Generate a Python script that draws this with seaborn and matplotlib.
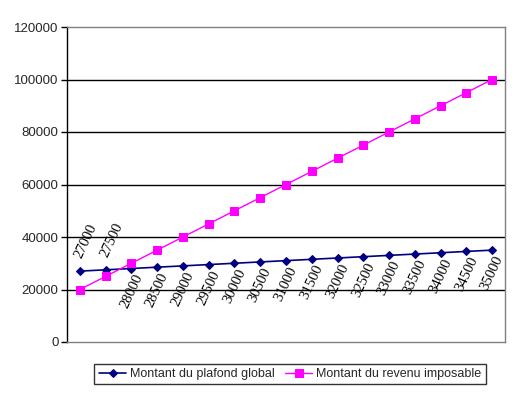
import matplotlib
matplotlib.use("Agg")
import matplotlib.pyplot as plt
import seaborn as sns
import pandas as pd
import numpy as np

sns.set_theme(style="white")
plt.rcParams['font.family'] = ['Liberation Sans', 'DejaVu Sans']

categories = list(range(17))
plafond = [27000, 27500, 28000, 28500, 29000, 29500, 30000, 30500, 31000,
           31500, 32000, 32500, 33000, 33500, 34000, 34500, 35000]
revenu = [20000, 25000, 30000, 35000, 40000, 45000, 50000, 55000, 60000,
          65000, 70000, 75000, 80000, 85000, 90000, 95000, 100000]
labels = ["27000", "27500", "28000", "28500", "29000", "29500", "30000", "30500",
          "31000", "31500", "32000", "32500", "33000", "33500", "34000", "34500", "35000"]
yticks = [0, 20000, 40000, 60000, 80000, 100000, 120000]

df = pd.DataFrame({"cat": categories, "plafond": plafond, "revenu": revenu})

fig = plt.figure(figsize=(5.18, 3.96), dpi=100)
ax = fig.add_axes([67/518, 54/396, 438/518, 315/396])

sns.lineplot(data=df, x="cat", y="plafond", ax=ax, color="#000080", marker="D",
             markersize=4.5, markeredgecolor="#000080", linewidth=1.2,
             label="Montant du plafond global")
sns.lineplot(data=df, x="cat", y="revenu", ax=ax, color="#FF00FF", marker="s",
             markersize=5.5, markeredgecolor="#FF00FF", linewidth=1.0,
             label="Montant du revenu imposable")

ax.set_xlim(-0.5, 16.5)
ax.set_ylim(0, 120000)
ax.set_xticks([])
ax.set_yticks(yticks)
ax.set_yticklabels([str(v) for v in yticks], fontsize=9.5)
ax.set_xlabel("")
ax.set_ylabel("")
for v in yticks[1:-1]:
    ax.axhline(v, color="black", linewidth=1.0, zorder=0)
ax.tick_params(axis="y", which="both", left=True, length=4, width=1, color="black", pad=2)
for s in ["top", "right", "bottom"]:
    ax.spines[s].set_color("#808080")
    ax.spines[s].set_linewidth(1.0)
ax.spines["left"].set_color("black")
ax.spines["left"].set_linewidth(1.0)

for i, (x, y, t) in enumerate(zip(categories, plafond, labels)):
    if i < 2:
        off = (6 * 0.72, 30 * 0.72)
    else:
        off = (0, -23 * 0.72)
    ax.annotate(t, (x, y), xytext=off, textcoords="offset points",
                ha="center", va="center", rotation=65, fontsize=10.5,
                family=["Liberation Serif", "DejaVu Serif"], color="black")

leg = ax.legend(loc="center", bbox_to_anchor=(290/518, 22/396),
                bbox_transform=fig.transFigure, ncol=2, frameon=True,
                fancybox=False, edgecolor="black", fontsize=9,
                handlelength=2.2, handletextpad=0.3, columnspacing=0.8,
                borderpad=0.35)
leg.get_frame().set_linewidth(1.0)

fig.savefig("out.png", dpi=100)
